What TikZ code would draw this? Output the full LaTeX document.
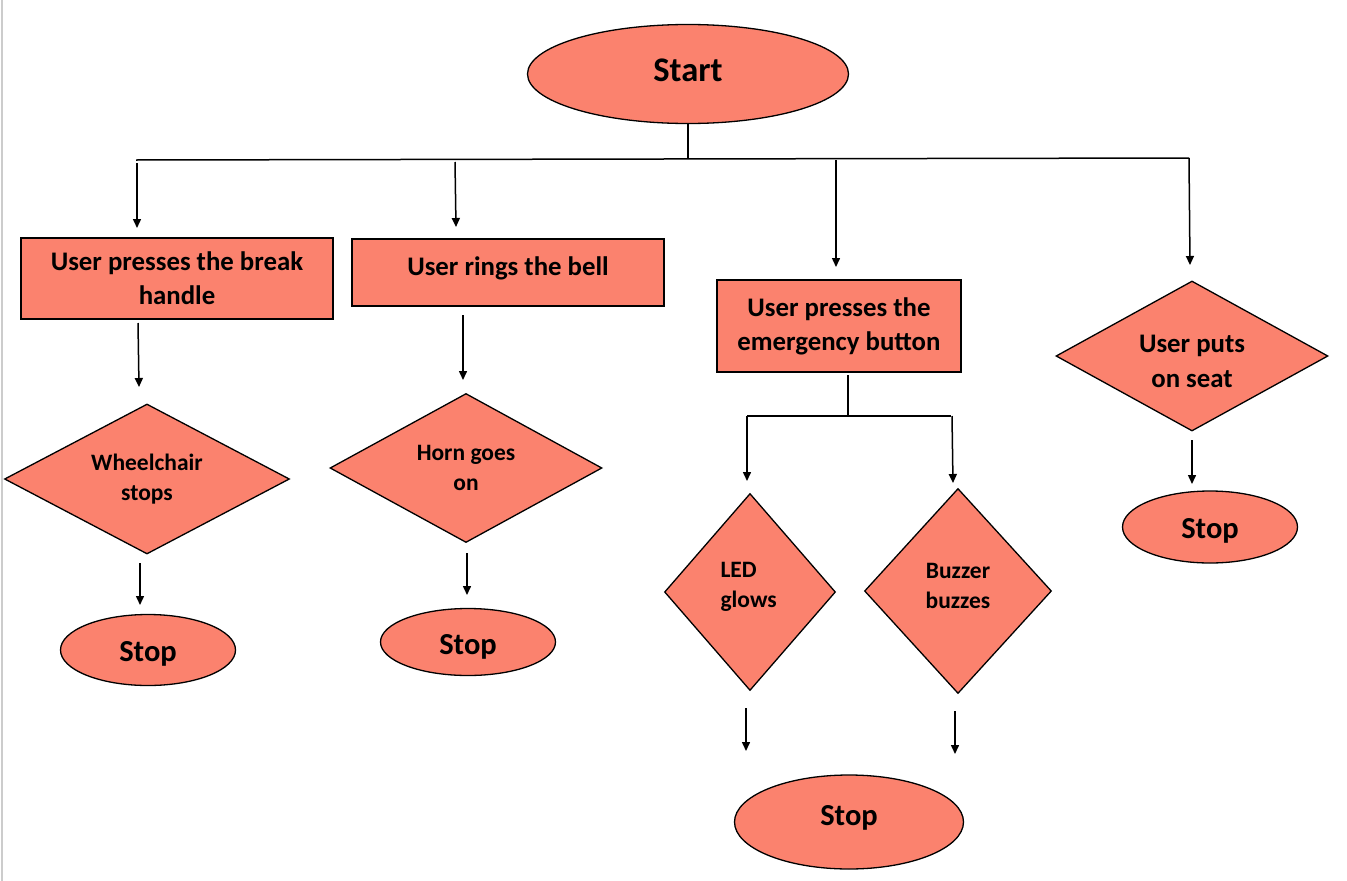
\documentclass[tikz,border=0pt]{standalone}
\usepackage{fontspec}
\setmainfont{Carlito}
\usetikzlibrary{shapes.geometric,arrows.meta}
\definecolor{fillc}{RGB}{251,130,110}
\begin{document}
\begin{tikzpicture}[x=1pt,y=-1pt,
  every node/.style={font=\bfseries},
  ell/.style={ellipse,draw=black,line width=1.3pt,fill=fillc,inner sep=0pt},
  stoplab/.style={font=\bfseries\fontsize{30.5}{32}\selectfont},
  boxn/.style={rectangle,draw=black,line width=1.6pt,fill=fillc,inner sep=0pt,align=center,font=\bfseries\fontsize{26.8}{34}\selectfont},
  dia/.style={diamond,draw=black,line width=1.3pt,fill=fillc,inner sep=0pt,align=center,font=\bfseries\fontsize{23.5}{30}\selectfont},
  ln/.style={line width=1.5pt},
  arr/.style={line width=1.5pt,-{Triangle[length=9pt,width=8pt]}}]
\useasboundingbox (0,0) rectangle (1347,881);
\fill[white] (0,0) rectangle (1347,881);
\draw[gray!40,line width=1.5pt] (2,0) -- (2,881);

% start
\node[ell,minimum width=321pt,minimum height=99pt,
  label={[font=\bfseries\fontsize{34.5}{36}\selectfont,yshift=4pt]center:Start}] (start) at (688,74) {};

% bus
\coordinate (busL) at (136,160);
\coordinate (busR) at (1189,158);
\coordinate (busM) at (688,159);
\draw[ln] (start.south) -- (busM);
\draw[ln] (busL) -- (busR);

% level 1
\node[boxn,minimum width=312pt,minimum height=81pt] (b1) at (177,278.5) {User presses the break\\handle};
\node[boxn,minimum width=312pt,minimum height=67pt] (b2) at (508,272.5) {};
\node[font=\bfseries\fontsize{26.8}{34}\selectfont] (t2) at (508,268) {User rings the bell};
\node[boxn,minimum width=244pt,minimum height=92pt] (b3) at (839,326) {User presses the\\emergency button};
\node[dia,minimum width=272pt,minimum height=150pt] (d4) at (1192,356) {};
\node[font=\bfseries\fontsize{26.8}{35}\selectfont,align=center] (t4) at (1192,361) {User puts\\on seat};

\coordinate (s1) at (137,163); \coordinate (e1) at (137,228);
\coordinate (s2) at (455,162); \coordinate (e2) at (456,227);
\coordinate (s3) at (836,160); \coordinate (e3) at (836,267);
\coordinate (s4) at (1189,158); \coordinate (e4) at (1190,265);
\draw[arr] (s1) -- (e1);
\draw[arr] (s2) -- (e2);
\draw[arr] (s3) -- (e3);
\draw[arr] (s4) -- (e4);

% column 1
\node[dia,shape aspect=1.9,minimum width=285pt,minimum height=150pt] (d1) at (147,479) {Wheelchair\\stops};
\node[ell,minimum width=175pt,minimum height=71pt,
  label={[stoplab,yshift=-4pt]center:Stop}] (st1) at (148,650) {};
\coordinate (s5) at (138,323); \coordinate (e5) at (139,387);
\coordinate (s6) at (140,563); \coordinate (e6) at (140,605);
\draw[arr] (s5) -- (e5);
\draw[arr] (s6) -- (e6);

% column 2
\node[dia,shape aspect=1.83,minimum width=272pt,minimum height=149pt] (d2) at (466,468) {Horn goes\\on};
\node[ell,minimum width=175pt,minimum height=67pt,
  label={[stoplab,yshift=-5pt]center:Stop}] (st2) at (468,642) {};
\coordinate (s7) at (463,315); \coordinate (e7) at (463,380);
\coordinate (s8) at (467,553); \coordinate (e8) at (467,595);
\draw[arr] (s7) -- (e7);
\draw[arr] (s8) -- (e8);

% column 3
\coordinate (j3) at (848,416);
\coordinate (jL) at (747,416);
\coordinate (jR) at (951,416);
\draw[ln] (848,375) -- (j3);
\draw[ln] (jL) -- (jR);
\coordinate (e9) at (747,481);
\coordinate (s10) at (952,416); \coordinate (e10) at (953,483);
\draw[arr] (jL) -- (e9);
\draw[arr] (s10) -- (e10);
\node[dia,minimum width=171pt,minimum height=197pt] (d5) at (750,592) {};
\node[font=\bfseries\fontsize{23.5}{30}\selectfont,align=left,anchor=west] (t5) at (717,587) {LED\\glows};
\node[dia,minimum width=187pt,minimum height=205pt] (d6) at (958,591) {};
\node[font=\bfseries\fontsize{23.5}{30}\selectfont,align=center] (t6) at (958,586) {Buzzer\\buzzes};
\coordinate (s11) at (746,708); \coordinate (e11) at (746,751);
\coordinate (s12) at (955,711); \coordinate (e12) at (955,754);
\draw[arr] (s11) -- (e11);
\draw[arr] (s12) -- (e12);
\node[ell,minimum width=229pt,minimum height=94pt,
  label={[stoplab,yshift=4pt]center:Stop}] (st3) at (849,822) {};

% column 4
\coordinate (s13) at (1192,440); \coordinate (e13) at (1192,484);
\draw[arr] (s13) -- (e13);
\node[ell,minimum width=175pt,minimum height=72pt,
  label={[stoplab,yshift=-4pt]center:Stop}] (st4) at (1210,527) {};
\end{tikzpicture}
\end{document}
